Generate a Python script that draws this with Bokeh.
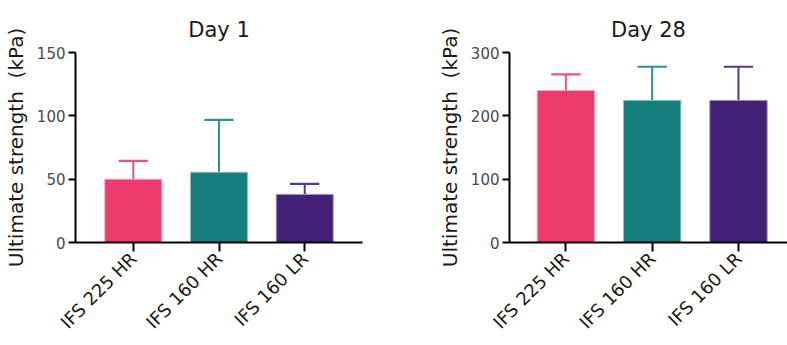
import math
from bokeh.plotting import figure
from bokeh.layouts import row
from bokeh.models import FixedTicker, ColumnDataSource, Range1d
from bokeh.embed import file_html
from bokeh.resources import INLINE

categories = ["IFS 225 HR", "IFS 160 HR", "IFS 160 LR"]
colors = ["#EE3A6F", "#167F7E", "#432176"]
edge_colors = ["#F8A9C0", "#8CC4C3", "#A898C4"]
err_colors = ["#F0507F", "#2E8F8E", "#56378C"]

day1_mean = [50.0, 55.5, 38.0]
day1_sd = [14.5, 41.3, 8.3]
day28_mean = [240.0, 224.5, 224.5]
day28_sd = [25.5, 53.0, 53.0]

day1_yticks = [0, 50, 100, 150]
day28_yticks = [0, 100, 200, 300]

FONT = "DejaVu Sans"


def make_panel(title, mean, sd, yticks, width, x_start, x_end, border_left, border_right):
    idx = list(range(len(categories)))
    p = figure(width=width, height=345, output_backend="svg", toolbar_location=None,
               x_range=Range1d(x_start, x_end), y_range=Range1d(yticks[0], yticks[-1]),
               min_border_left=border_left, min_border_right=border_right,
               min_border_top=52, min_border_bottom=103, title=title)
    p.title.text_font = FONT
    p.title.text_font_size = "21px"
    p.title.text_font_style = "normal"
    p.title.align = "center"
    p.title.vertical_align = "top"
    p.title.standoff = 17
    p.title.text_color = "#1a1a1a"
    p.outline_line_color = None
    p.grid.visible = False
    p.background_fill_color = "white"
    p.border_fill_color = "white"

    upper = [m + s for m, s in zip(mean, sd)]
    src = ColumnDataSource(dict(x=idx, top=mean, upper=upper, color=colors,
                                edge=edge_colors, ecolor=err_colors,
                                cl=[i - 0.17 for i in idx], cr=[i + 0.17 for i in idx]))
    p.segment(x0="x", y0="top", x1="x", y1="upper", source=src, line_color="ecolor", line_width=2)
    p.segment(x0="cl", y0="upper", x1="cr", y1="upper", source=src, line_color="ecolor", line_width=2.2)
    p.vbar(x="x", top="top", bottom=0, width=0.665, source=src,
           fill_color="color", line_color="edge", line_width=1)

    # y axis
    ya = p.yaxis[0]
    ya.ticker = FixedTicker(ticks=yticks)
    ya.axis_label = "Ultimate strength\u00a0\u00a0(kPa)"
    ya.axis_label_text_font = FONT
    ya.axis_label_text_font_size = "20px"
    ya.axis_label_text_font_style = "normal"
    ya.axis_label_text_color = "#1a1a1a"
    ya.axis_label_standoff = 6
    ya.major_label_text_font = FONT
    ya.major_label_text_font_size = "15px"
    ya.major_label_text_color = "#4a4a4a"
    ya.major_label_standoff = 3
    ya.axis_line_width = 2
    ya.axis_line_color = "black"
    ya.major_tick_line_width = 2
    ya.major_tick_line_color = "black"
    ya.major_tick_out = 7
    ya.major_tick_in = 0
    ya.minor_tick_line_color = None

    # x axis
    xa = p.xaxis[0]
    xa.ticker = FixedTicker(ticks=idx)
    xa.major_label_overrides = {i: c for i, c in zip(idx, categories)}
    xa.major_label_orientation = math.pi / 4
    xa.major_label_text_font = FONT
    xa.major_label_text_font_size = "18px"
    xa.major_label_text_color = "#1a1a1a"
    xa.major_label_standoff = 4
    xa.axis_line_width = 2
    xa.axis_line_color = "black"
    xa.major_tick_line_width = 2
    xa.major_tick_line_color = "black"
    xa.major_tick_out = 9
    xa.major_tick_in = 0
    xa.minor_tick_line_color = None
    return p


p1 = make_panel("Day 1", day1_mean, day1_sd, day1_yticks, 400, -0.674, 2.674, 74, 38)
p2 = make_panel("Day 28", day28_mean, day28_sd, day28_yticks, 387, -0.653, 2.568, 109, 0)

layout = row(p1, p2)
open("out.html", "w").write(file_html(layout, INLINE))
